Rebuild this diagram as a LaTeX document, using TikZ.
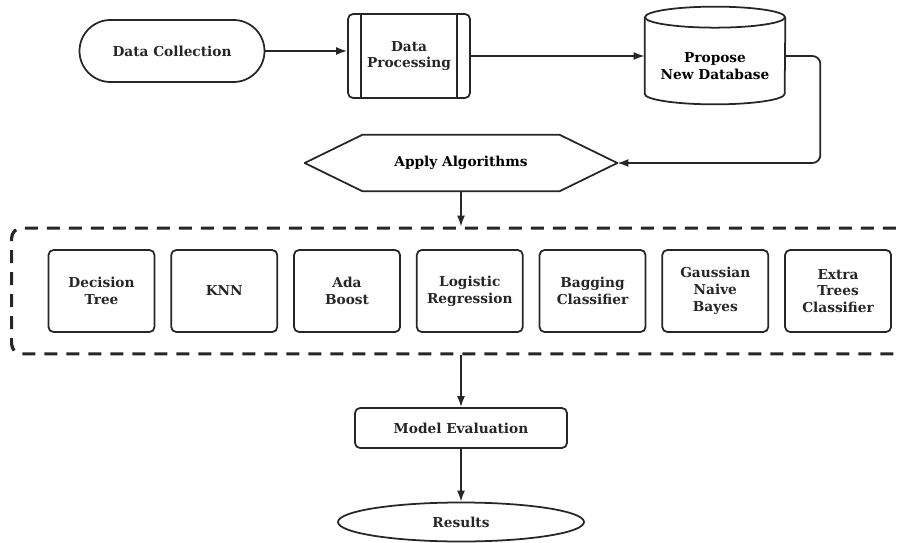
\documentclass[tikz,border=0pt]{standalone}
\usepackage{fontspec}
\setmainfont{DejaVu Serif}
\usetikzlibrary{arrows.meta,positioning,shapes.geometric,fit}

\begin{document}
\begin{tikzpicture}[x=0.2mm,y=0.2mm,
  every node/.style={font=\bfseries\fontsize{7.8}{9.6}\selectfont,align=center,inner sep=0pt},
  line/.style={line width=1pt,black!85},
  arr/.style={line,-{Latex[length=2.2mm,width=1.6mm]}},
  term/.style={draw,line,rounded corners=6.2mm,minimum width=37mm,minimum height=12.4mm},
  proc/.style={draw,line,rounded corners=1mm,minimum width=24.4mm,minimum height=16.8mm},
  dbase/.style={minimum width=28mm,minimum height=15.2mm},
  hexa/.style={minimum width=62.4mm,minimum height=11.2mm},
  model/.style={draw,line,rounded corners=1mm,minimum width=21.2mm,minimum height=16.4mm},
  group/.style={draw,line width=1.8pt,black!85,dash pattern=on 2.6mm off 1.8mm,
    rounded corners=2mm,inner xsep=7.2mm,inner ysep=4.2mm},
  eval/.style={draw,line,rounded corners=1mm,minimum width=42.4mm,minimum height=8mm},
  res/.style={draw,line,ellipse,minimum width=49.2mm,minimum height=7.8mm}]
\useasboundingbox (0,0) rectangle (899,-542);

\node[term] (collect) at (172,-51) {Data Collection};
\node[proc] (process) at (409,-56) {Data\\Processing};
\draw[line] ([xshift=2.8mm]process.north west) -- ([xshift=2.8mm]process.south west);
\draw[line] ([xshift=-2.8mm]process.north east) -- ([xshift=-2.8mm]process.south east);
\node[dbase] (store) at (715,-66) {Propose\\New Database};
\draw[line] ([yshift=2.1mm]store.north west) -- ([yshift=2.1mm]store.south west)
  arc[start angle=180,end angle=360,x radius=14mm,y radius=2.1mm] -- ([yshift=2.1mm]store.north east);
\draw[line] ([yshift=2.1mm]store.north) ellipse[x radius=14mm,y radius=2.1mm];
\node[hexa] (apply) at (461,-163) {Apply Algorithms};
\draw[line,line join=round] (apply.west) -- ([xshift=11.6mm]apply.north west)
  -- ([xshift=-11.6mm]apply.north east) -- (apply.east)
  -- ([xshift=-11.6mm]apply.south east) -- ([xshift=11.6mm]apply.south west) -- cycle;

\node[model] (dt) at (101.5,-291) {Decision\\Tree};
\node[model,right=3.0mm of dt] (knn) {KNN};
\node[model,right=3.0mm of knn] (ada) {Ada\\Boost};
\node[model,right=3.0mm of ada] (lr) {Logistic\\Regression};
\node[model,right=3.0mm of lr] (bag) {Bagging\\Classifier};
\node[model,right=3.0mm of bag] (gnb) {Gaussian\\Naive\\Bayes};
\node[model,right=3.0mm of gnb] (et) {Extra\\Trees\\Classifier};
\node[group,fit=(dt)(et)] (models) {};

\node[eval] (evaluate) at (461,-428) {Model Evaluation};
\node[res] (results) at (461,-522) {Results};

\draw[arr] (collect.east) -- (collect.east -| process.west);
\draw[arr] (process.east) -- (process.east -| store.west);
\draw[arr,rounded corners=1.6mm] (process.east -| store.east) -- ++(7mm,0) |- (apply.east);
\draw[arr] (apply.south) -- (apply.south |- models.north);
\draw[arr] (models.south -| evaluate.north) -- (evaluate.north);
\draw[arr] (evaluate.south) -- (results.north);
\end{tikzpicture}
\end{document}
